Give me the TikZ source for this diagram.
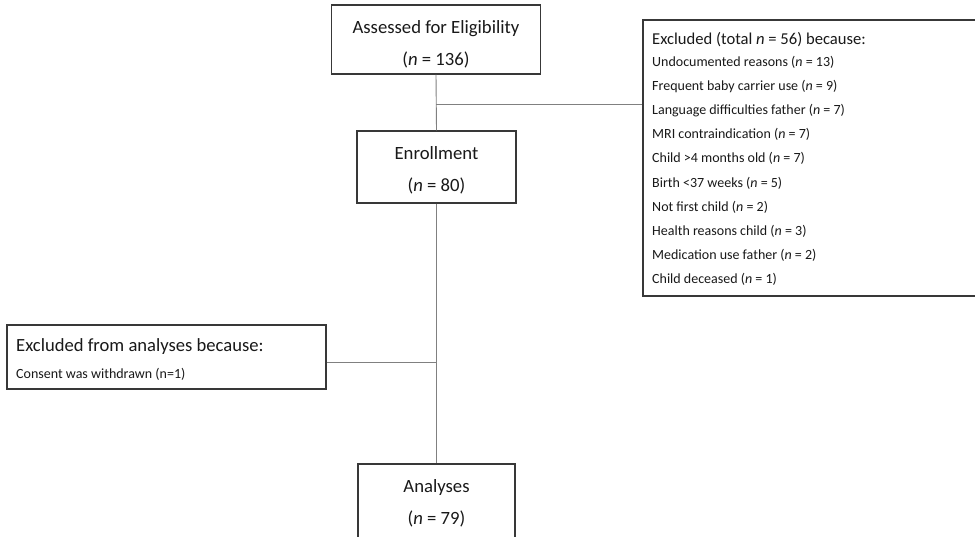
\documentclass[tikz,border=0pt]{standalone}
\usepackage{fontspec}
\setmainfont{Carlito}
\begin{document}
\begin{tikzpicture}[x=1pt,y=-1pt,
  boxline/.style={draw=black!78, line width=1.1pt},
  conn/.style={draw=black!50, line width=0.9pt},
  bigtext/.style={font=\fontsize{18.7}{32}\selectfont, text=black!90, align=center, inner sep=0pt},
  ttltext/.style={font=\fontsize{16.6}{20}\selectfont, text=black!90, anchor=west, inner sep=0pt},
  lefttitle/.style={font=\fontsize{18.6}{22}\selectfont, text=black!90, anchor=west, inner sep=0pt},
  smalltext/.style={font=\fontsize{14}{17}\selectfont, text=black!90, anchor=west, inner sep=0pt}]
\useasboundingbox[fill=white] (0,0) rectangle (975,536);
% boxes
\node[boxline, minimum width=209pt, minimum height=69pt, inner sep=0pt] (assess) at (436,39.5) {};
\node[boxline, minimum width=159pt, minimum height=72pt, inner sep=0pt] (enroll) at (436.5,167) {};
\node[boxline, minimum width=157pt, minimum height=76pt, inner sep=0pt] (analyses) at (436.5,502) {};
\node[boxline, minimum width=334pt, minimum height=276pt, inner sep=0pt] (excl) at (810,158) {};
\node[boxline, minimum width=319pt, minimum height=64pt, inner sep=0pt] (exclan) at (166.5,357) {};
% texts
\node[bigtext] (assesstxt) at (436,44) {Assessed for Eligibility\\(\textit{n} = 136)};
\node[bigtext] (enrolltxt) at (436.5,170.5) {Enrollment\\(\textit{n} = 80)};
\node[bigtext] (analysestxt) at (436.5,503) {Analyses\\(\textit{n} = 79)};
\node[ttltext] (exclttl) at (652,40) {Excluded (total \textit{n} = 56) because:};
\node[smalltext] (r1) at (652,62.0) {Undocumented reasons (\textit{n} = 13)};
\node[smalltext] (r2) at (652,86.2) {Frequent baby carrier use (\textit{n} = 9)};
\node[smalltext] (r3) at (652,110.4) {Language difficulties father (\textit{n} = 7)};
\node[smalltext] (r4) at (652,134.6) {MRI contraindication (\textit{n} = 7)};
\node[smalltext] (r5) at (652,158.8) {Child >4 months old (\textit{n} = 7)};
\node[smalltext] (r6) at (652,183.0) {Birth <37 weeks (\textit{n} = 5)};
\node[smalltext] (r7) at (652,207.2) {Not first child (\textit{n} = 2)};
\node[smalltext] (r8) at (652,231.4) {Health reasons child (\textit{n} = 3)};
\node[smalltext] (r9) at (652,255.6) {Medication use father (\textit{n} = 2)};
\node[smalltext] (r10) at (652,279.8) {Child deceased (\textit{n} = 1)};
\node[lefttitle] (exclanttl) at (16,347) {Excluded from analyses because:};
\node[smalltext] (consent) at (16,374) {Consent was withdrawn (n=1)};
% connectors
\coordinate (j1) at (436,104);
\coordinate (j2) at (436,362);
\draw[conn] (assess.south) -- (enroll.north);
\draw[conn] (enroll.south) -- (analyses.north);
\draw[conn] (j1) -- (j1 -| excl.west);
\draw[conn] (j2 -| exclan.east) -- (j2);
\end{tikzpicture}
\end{document}
